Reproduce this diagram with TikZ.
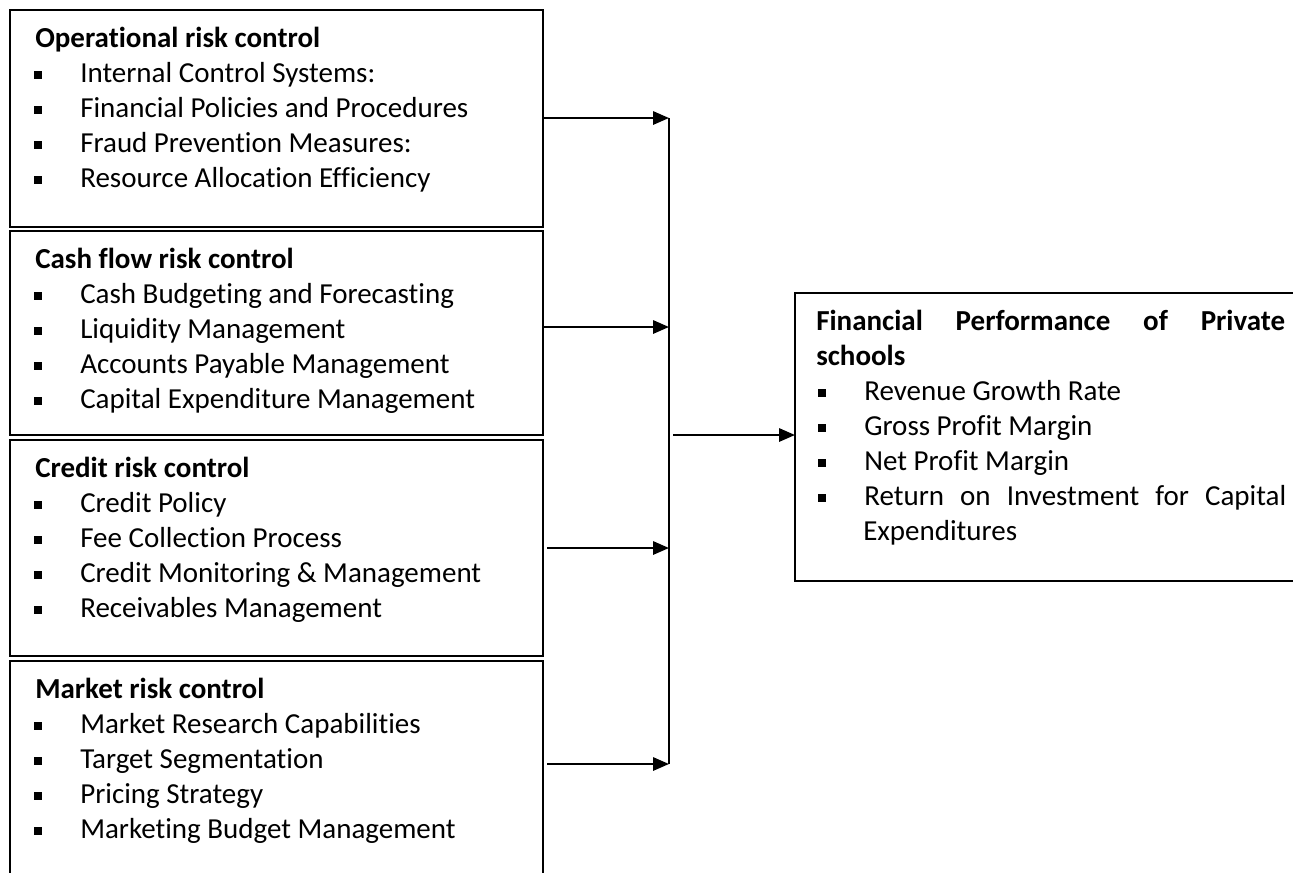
\documentclass[tikz,border=0pt]{standalone}
\usepackage{fontspec}
\setmainfont{Carlito}[Ligatures=NoCommon]
\usetikzlibrary{arrows.meta}
% square list bullet followed by the item text
\newcommand\sqbul{\makebox[34.5pt][l]{\raisebox{2.4pt}{\rule{5.8pt}{5.8pt}}}}
\begin{document}
\begin{tikzpicture}[x=0.75pt,y=-0.75pt,
  every node/.style={font=\fontsize{21.75pt}{26pt}\selectfont},
  panel/.style={draw, line width=1.3pt, anchor=north west, inner sep=0pt, outer sep=0pt},
  head/.style={anchor=base west, inner sep=0pt, font=\fontsize{21.75pt}{26pt}\selectfont\bfseries},
  entry/.style={anchor=base west, inner sep=0pt},
  link/.style={line width=1.6pt, -{Triangle[length=12pt, width=10pt]}},
  bus/.style={line width=1.6pt}]
\useasboundingbox (0,0) rectangle (1293,872);

% left column of risk-control panels
\node[panel, minimum width=399.75pt, minimum height=162.75pt] (op) at (10,10) {};
\node[panel, minimum width=399.75pt, minimum height=153pt] (cf) at (10,231) {};
\node[panel, minimum width=399.75pt, minimum height=162pt] (cr) at (10,440) {};
\node[panel, minimum width=399.75pt, minimum height=164.25pt] (mk) at (10,661) {};

% operational risk
\node[head] (oph) at (35,47) {Operational risk control};
\node[entry] (op1) at (34,82) {\sqbul Internal Control Systems:};
\node[entry] (op2) at (34,117) {\sqbul Financial Policies and Procedures};
\node[entry] (op3) at (34,152) {\sqbul Fraud Prevention Measures:};
\node[entry] (op4) at (34,187) {\sqbul Resource Allocation Efficiency};

% cash flow risk
\node[head] (cfh) at (35,268) {Cash flow risk control};
\node[entry] (cf1) at (34,303) {\sqbul Cash Budgeting and Forecasting};
\node[entry] (cf2) at (34,338) {\sqbul Liquidity Management};
\node[entry] (cf3) at (34,373) {\sqbul Accounts Payable Management};
\node[entry] (cf4) at (34,408) {\sqbul Capital Expenditure Management};

% credit risk
\node[head] (crh) at (35,477) {Credit risk control};
\node[entry] (cr1) at (34,512) {\sqbul Credit Policy};
\node[entry] (cr2) at (34,547) {\sqbul Fee Collection Process};
\node[entry] (cr3) at (34,582) {\sqbul Credit Monitoring \& Management};
\node[entry] (cr4) at (34,617) {\sqbul Receivables Management};

% market risk
\node[head] (mkh) at (35,698) {Market risk control};
\node[entry] (mk1) at (34,733) {\sqbul Market Research Capabilities};
\node[entry] (mk2) at (34,768) {\sqbul Target Segmentation};
\node[entry] (mk3) at (34,803) {\sqbul Pricing Strategy};
\node[entry] (mk4) at (34,838) {\sqbul Marketing Budget Management};

% outcome panel
\node[panel, minimum width=376.5pt, minimum height=216pt] (fp) at (795,293) {};
\node[head] (fph) at (816,330) {\hbox to 351.75pt{Financial\hfill Performance\hfill of\hfill Private}};
\node[head] (fph2) at (816,365) {schools};
\node[entry] (fp1) at (818,400) {\sqbul Revenue Growth Rate};
\node[entry] (fp2) at (818,435) {\sqbul Gross Profit Margin};
\node[entry] (fp3) at (818,470) {\sqbul Net Profit Margin};
\node[entry] (fp4) at (818,505) {\sqbul\hbox to 316.5pt{Return\hfill on\hfill Investment\hfill for\hfill Capital}};
\node[entry] (fp4b) at (863,540) {Expenditures};

% collecting bus
\coordinate (j1) at (669,118);
\coordinate (j2) at (669,327);
\coordinate (j3) at (669,548);
\coordinate (j4) at (669,764);
\coordinate (jo) at (673,435);
\coordinate (s3) at (547,548);
\coordinate (s4) at (547,764);

\draw[link] (op.east |- j1) -- (j1);
\draw[link] (cf.east |- j2) -- (j2);
\draw[link] (s3) -- (j3);
\draw[link] (s4) -- (j4);
\draw[bus] (j1) -- (j4);
\draw[link] (jo) -- (fp.west |- jo);
\end{tikzpicture}
\end{document}
